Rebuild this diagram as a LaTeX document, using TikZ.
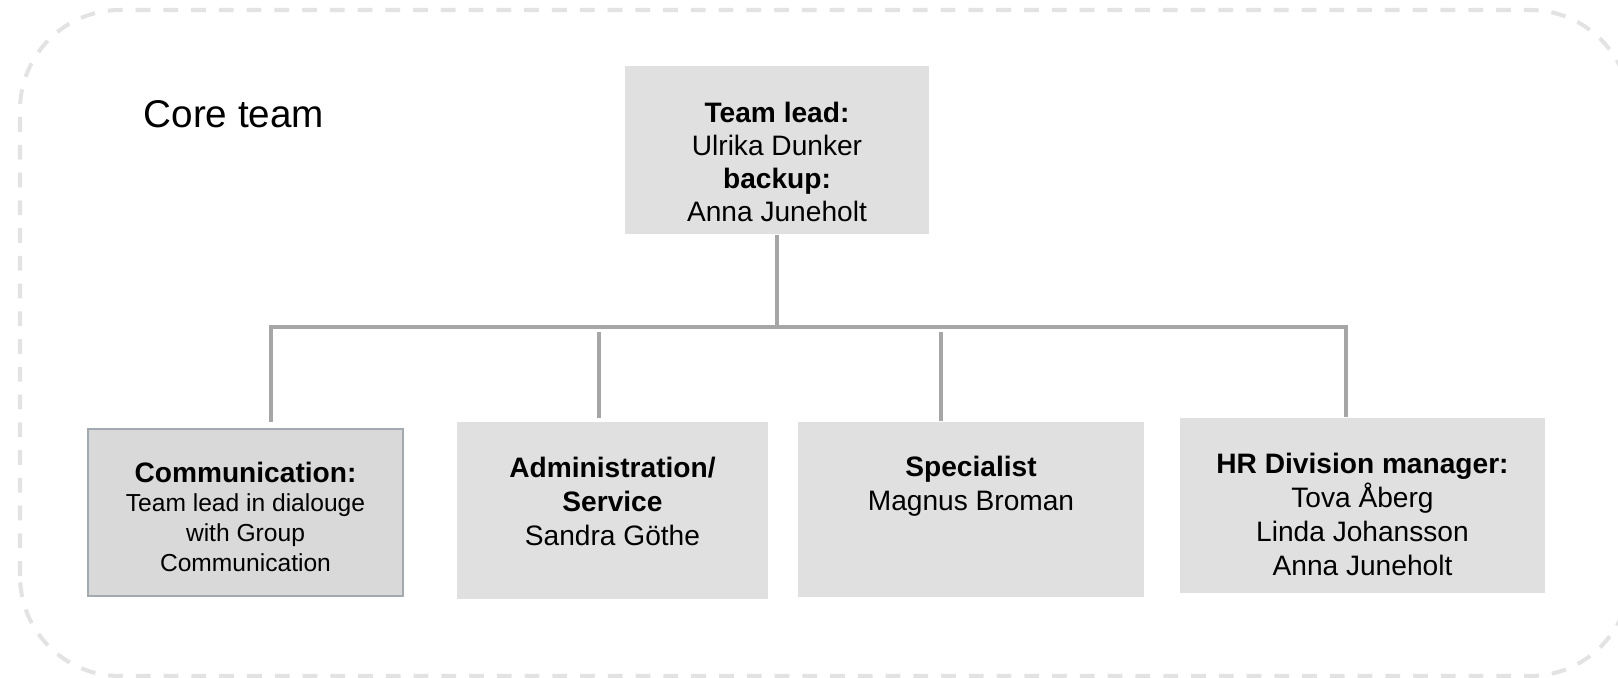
\documentclass[tikz,border=0pt]{standalone}
\usepackage{fontspec}
\setmainfont{Liberation Sans}
\usepackage{tikz}
\usetikzlibrary{positioning}

\definecolor{boxgray}{HTML}{E0E0E0}
\definecolor{commgray}{HTML}{D9D9D9}
\definecolor{commline}{HTML}{A2AAAF}
\definecolor{linkgray}{HTML}{A6A6A6}
\definecolor{framegray}{HTML}{E3E3E3}

\tikzset{
  frame/.style={framegray, line width=1.15pt, dash pattern=on 4.2pt off 3.7pt, rounded corners=1cm},
  unit/.style={fill=boxgray, inner sep=0pt},
  link/.style={linkgray, line width=1.1pt},
  txt/.style={anchor=north, inner sep=0pt, align=center, font=\fontsize{8}{9.7}\selectfont},
}

\begin{document}
\begin{tikzpicture}
    \useasboundingbox (0,0) rectangle (16.18,6.78);
    % dashed frame
    \draw[frame] (0.20,0.02) rectangle (16.30,6.68);
    \node[anchor=base west, inner sep=0pt, font=\fontsize{11}{13}\selectfont] (title) at (1.43,5.50) {Core team};

    % Boxes
    \node[unit, minimum width=3.04cm, minimum height=1.68cm] (lead) at (7.77,5.28) {};
    \node[unit, fill=commgray, draw=commline, line width=0.6pt, minimum width=3.15cm, minimum height=1.67cm] (comm) at (2.455,1.655) {};
    \node[unit, minimum width=3.11cm, minimum height=1.77cm] (admin) at (6.125,1.675) {};
    \node[unit, minimum width=3.46cm, minimum height=1.75cm] (spec) at (9.71,1.685) {};
    \node[unit, minimum width=3.65cm, minimum height=1.75cm] (hr) at (13.625,1.725) {};

    % Texts
    \node[txt, font=\fontsize{8}{9.4}\selectfont] (leadtxt) at (7.77,5.77)
      {\textbf{Team lead:}\\Ulrika Dunker\\\textbf{backup:}\\Anna Juneholt};
    \node[txt, font=\fontsize{7}{8.5}\selectfont] (commtxt) at (2.455,2.17)
      {{\fontsize{8}{8.5}\selectfont\bfseries Communication:}\\Team lead in dialouge\\with Group\\Communication};
    \node[txt] (admintxt) at (6.125,2.22) {\textbf{Administration/}\\\textbf{Service}\\Sandra Göthe};
    \node[txt] (spectxt) at (9.71,2.23) {\textbf{Specialist}\\Magnus Broman};
    \node[txt] (hrtxt) at (13.625,2.26) {\textbf{HR Division manager:}\\Tova Åberg\\Linda Johansson\\Anna Juneholt};

    % Connectors
    \coordinate (bar) at (0,3.51);
    \coordinate (c1) at ([xshift=2.55mm,yshift=0.6mm]comm.north);
    \coordinate (c2) at ([xshift=-1.35mm,yshift=0.3mm]admin.north);
    \coordinate (c3) at ([xshift=-3.0mm]spec.north);
    \coordinate (c4) at ([xshift=-1.65mm]hr.north);
    \draw[link] (lead.south) -- (lead.south |- bar);
    \draw[link] (c1) -- (c1 |- bar) -- (c4 |- bar) -- (c4);
    \draw[link] (c2) -- ([yshift=-0.5mm]c2 |- bar);
    \draw[link] (c3) -- ([yshift=-0.5mm]c3 |- bar);

\end{tikzpicture}
\end{document}
